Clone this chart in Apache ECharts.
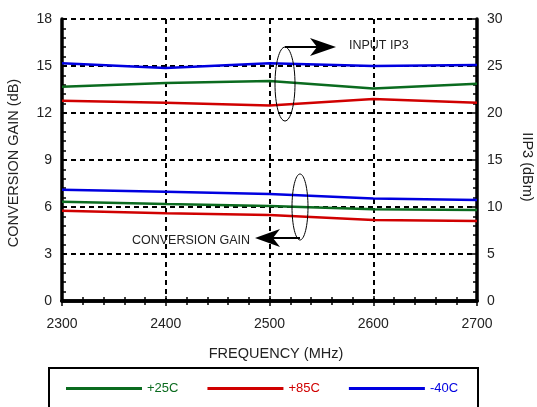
<!DOCTYPE html>
<html>
<head>
<meta charset="utf-8">
<script src="https://cdn.jsdelivr.net/npm/echarts@6/dist/echarts.min.js"></script>
<style>
html,body{margin:0;padding:0;background:#fff;}
#chart{width:537px;height:407px;}
</style>
</head>
<body>
<div id="chart"></div>
<script>
var frequencies = [2300, 2400, 2500, 2600, 2700];
var gain25 = [6.34, 6.19, 6.06, 5.85, 5.81];
var gain85 = [5.76, 5.60, 5.49, 5.17, 5.10];
var gainM40 = [7.10, 6.97, 6.83, 6.55, 6.45];
var ip3_25 = [22.8, 23.2, 23.4, 22.6, 23.1];
var ip3_85 = [21.3, 21.1, 20.8, 21.5, 21.1];
var ip3_M40 = [25.3, 24.8, 25.3, 25.0, 25.1];
var seriesNames = ['+25C', '+85C', '-40C'];
var colors = ['#0b6b1f', '#d00000', '#0000e0'];

var FONT = 'Liberation Sans, Arial, Helvetica, sans-serif';
function pairs(vals) { return frequencies.map(function (f, i) { return [f, vals[i]]; }); }

var chart = echarts.init(document.getElementById('chart'));

var axisLine = { show: true, lineStyle: { color: '#000', width: 3.5 } };
var tick = { show: true, inside: true, length: 5, lineStyle: { color: '#000', width: 1.5 } };
var minor = { show: true, splitNumber: 5, length: 4, lineStyle: { color: '#000', width: 1.5 } };
var dashed = { show: true, lineStyle: { color: '#000', width: 2, type: [5, 4] } };
var labelStyle = { color: '#222', fontSize: 14, fontFamily: FONT };

function mkSeries(name, data, yIdx, color) {
  return { name: name, type: 'line', yAxisIndex: yIdx, xAxisIndex: 0, data: pairs(data), symbol: 'none', animation: false,
    lineStyle: { color: color, width: 2.5 }, itemStyle: { color: color }, z: 5 };
}

chart.setOption({
  animation: false,
  grid: { left: 62, right: 60, top: 19, bottom: 106, containLabel: false },
  xAxis: [
    { type: 'value', position: 'bottom', min: 2300, max: 2700, interval: 100,
      axisLine: axisLine, axisTick: tick, minorTick: minor, splitLine: dashed,
      axisLabel: Object.assign({ margin: 16, formatter: function (v) { return String(v); } }, labelStyle) },
    { type: 'value', position: 'top', min: 2300, max: 2700, interval: 100,
      axisLine: axisLine, axisTick: tick, minorTick: minor, splitLine: { show: false },
      axisLabel: { show: false } }
  ],
  yAxis: [
    { type: 'value', position: 'left', min: 0, max: 18, interval: 3,
      axisLine: axisLine, axisTick: tick, minorTick: minor, splitLine: dashed,
      axisLabel: Object.assign({ margin: 10 }, labelStyle) },
    { type: 'value', position: 'right', min: 0, max: 30, interval: 5,
      axisLine: axisLine, axisTick: tick, minorTick: minor, splitLine: { show: false },
      axisLabel: Object.assign({ margin: 10 }, labelStyle) }
  ],
  legend: {
    left: 66, top: 382, padding: 0, icon: 'rect', itemWidth: 76, itemHeight: 3, itemGap: 29,
    textStyle: { fontSize: 13, fontFamily: FONT },
    data: seriesNames.map(function (n, i) { return { name: n, textStyle: { color: colors[i] } }; })
  },
  series: [
    mkSeries(seriesNames[0], gain25, 0, colors[0]),
    mkSeries(seriesNames[1], gain85, 0, colors[1]),
    mkSeries(seriesNames[2], gainM40, 0, colors[2]),
    mkSeries(seriesNames[0], ip3_25, 1, colors[0]),
    mkSeries(seriesNames[1], ip3_85, 1, colors[1]),
    mkSeries(seriesNames[2], ip3_M40, 1, colors[2])
  ],
  graphic: [
    { type: 'rect', shape: { x: 49, y: 368, width: 429, height: 60 }, style: { fill: 'none', stroke: '#000', lineWidth: 2 }, z: 1 },
    { type: 'text', x: 276, y: 354, style: { text: 'FREQUENCY (MHz)', font: '14.5px ' + FONT, fill: '#222', textAlign: 'center', textVerticalAlign: 'middle' } },
    { type: 'text', x: 14, y: 163, rotation: Math.PI / 2, style: { text: 'CONVERSION GAIN (dB)', font: '14.5px ' + FONT, fill: '#222', textAlign: 'center', textVerticalAlign: 'middle' } },
    { type: 'text', x: 527, y: 167, rotation: -Math.PI / 2, style: { text: 'IIP3 (dBm)', font: '14.5px ' + FONT, fill: '#222', textAlign: 'center', textVerticalAlign: 'middle' } },
    { type: 'ellipse', shape: { cx: 285, cy: 84, rx: 10, ry: 37 }, style: { fill: 'none', stroke: '#000', lineWidth: 1 }, z: 10 },
    { type: 'line', shape: { x1: 285, y1: 47, x2: 318, y2: 47 }, style: { stroke: '#000', lineWidth: 2 }, z: 10 },
    { type: 'polygon', shape: { points: [[336, 47], [310, 38], [317, 47], [310, 56]] }, style: { fill: '#000' }, z: 10 },
    { type: 'text', x: 349, y: 46, style: { text: 'INPUT IP3', font: '12.5px ' + FONT, fill: '#222', textAlign: 'left', textVerticalAlign: 'middle' }, z: 10 },
    { type: 'ellipse', shape: { cx: 300, cy: 207, rx: 8, ry: 33 }, style: { fill: 'none', stroke: '#000', lineWidth: 1 }, z: 10 },
    { type: 'line', shape: { x1: 300, y1: 238, x2: 272, y2: 238 }, style: { stroke: '#000', lineWidth: 2 }, z: 10 },
    { type: 'polygon', shape: { points: [[255, 238], [280, 229], [273, 238], [280, 247]] }, style: { fill: '#000' }, z: 10 },
    { type: 'text', x: 250, y: 241, style: { text: 'CONVERSION GAIN', font: '12.5px ' + FONT, fill: '#222', textAlign: 'right', textVerticalAlign: 'middle' }, z: 10 }
  ]
});
</script>
</body>
</html>
